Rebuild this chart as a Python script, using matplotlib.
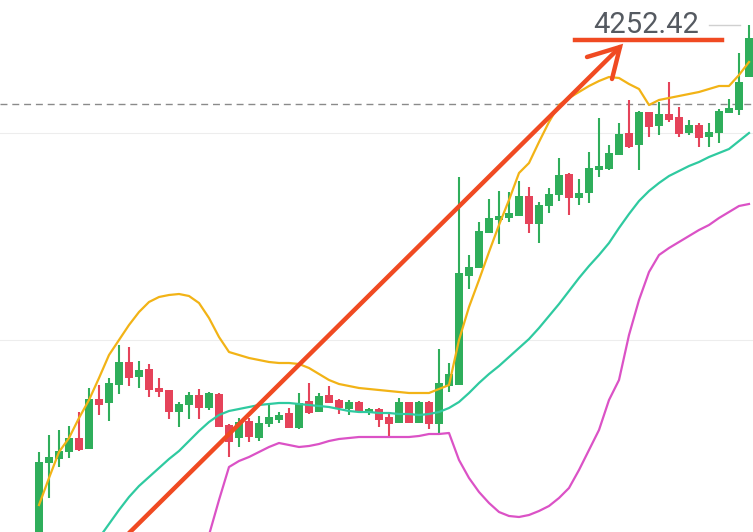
import numpy as np
import matplotlib
matplotlib.use("Agg")
import matplotlib.pyplot as plt

nan = np.nan

opens = [3747, 3829, 3833, 3840, 3854, 3843, 3893, 3889, 3907, 3930,
         3915, 3923, 3904, 3902, 3880, 3887, 3897, 3884, 3898, 3867,
         3854, 3871, 3854, 3868, 3872, 3879, 3864, 3891, 3880, 3897,
         3892, 3883, 3890, 3879, 3883, 3875, 3869, 3890, 3869, 3890,
         3868, 3906, 3907, 4016, 4024, 4059, 4072, 4074, 4076, 4096,
         4068, 4086, 4097, 4118, 4094, 4099, 4122, 4123, 4137, 4159,
         4147, 4180, 4166, 4178, 4175, 4159, 4167, 4155, 4159, 4179,
         4182, 4215]
highs = [3840, 3857, 3862, 3866, 3880, 3904, 3907, 3914, 3947, 3945,
         3931, 3928, 3914, 3902, 3890, 3900, 3903, 3900, 3899, 3868,
         3874, 3874, 3876, 3887, 3880, 3884, 3899, 3909, 3899, 3906,
         3893, 3892, 3891, 3884, 3884, 3879, 3894, 3890, 3891, 3891,
         3943, 3929, 4115, 4037, 4070, 4093, 4101, 4100, 4111, 4105,
         4090, 4104, 4134, 4119, 4113, 4140, 4174, 4147, 4169, 4192,
         4181, 4180, 4190, 4210, 4185, 4172, 4169, 4169, 4183, 4193,
         4239, 4267]
lows = [3732, 3794, 3825, 3834, 3841, 3843, 3877, 3871, 3898, 3906,
        3904, 3895, 3895, 3873, 3865, 3873, 3873, 3882, 3865, 3835,
        3845, 3850, 3851, 3865, 3869, 3864, 3863, 3878, 3880, 3889,
        3878, 3877, 3880, 3877, 3865, 3855, 3869, 3869, 3869, 3863,
        3858, 3900, 3907, 4003, 4024, 4059, 4048, 4070, 4076, 4059,
        4049, 4079, 4091, 4077, 4087, 4089, 4115, 4122, 4137, 4144,
        4122, 4155, 4157, 4170, 4155, 4157, 4145, 4145, 4149, 4179,
        4177, 4215]
closes = [3830, 3835, 3841, 3854, 3842, 3893, 3887, 3909, 3930, 3914,
          3922, 3902, 3900, 3880, 3888, 3897, 3884, 3899, 3865, 3850,
          3870, 3855, 3869, 3875, 3877, 3864, 3889, 3879, 3896, 3889,
          3884, 3890, 3881, 3883, 3872, 3868, 3890, 3869, 3890, 3868,
          3909, 3918, 4019, 4025, 4061, 4074, 4076, 4079, 4096, 4068,
          4087, 4098, 4117, 4094, 4099, 4124, 4126, 4139, 4158, 4145,
          4180, 4165, 4178, 4172, 4158, 4167, 4154, 4160, 4181, 4184,
          4210, 4254]

upper_band = [3787, 3814, 3840, 3854, 3874, 3892, 3914, 3937, 3952, 3967,
              3980, 3990, 3995, 3997, 3998, 3996, 3989, 3974, 3955, 3940,
              3937, 3934, 3932, 3930, 3929, 3929, 3928, 3924, 3918, 3912,
              3908, 3906, 3904, 3903, 3902, 3901, 3900, 3899, 3899, 3899,
              3903, 3907, 3952, 3985, 4012, 4040, 4067, 4092, 4119, 4129,
              4150, 4170, 4187, 4194, 4200, 4206, 4211, 4215, 4214, 4208,
              4203, 4187, 4192, 4194, 4196, 4198, 4200, 4203, 4206, 4206,
              4217, 4230]
middle_band = [nan, nan, nan, nan, nan, nan, 3754, 3768, 3782, 3795,
               3806, 3815, 3824, 3833, 3841, 3851, 3861, 3870, 3877, 3881,
               3883, 3885, 3887, 3888, 3889, 3889, 3888, 3887, 3886, 3885,
               3883, 3881, 3880, 3880, 3879, 3879, 3878, 3878, 3877, 3878,
               3880, 3884, 3890, 3899, 3909, 3918, 3926, 3935, 3944, 3953,
               3964, 3976, 3988, 4001, 4014, 4026, 4037, 4049, 4064, 4078,
               4091, 4101, 4109, 4116, 4121, 4126, 4130, 4135, 4139, 4143,
               4151, 4159]
lower_band = [nan, nan, nan, nan, nan, nan, nan, nan, nan, nan,
              nan, nan, nan, nan, nan, nan, 3722, 3757, 3792, 3825,
              3831, 3835, 3840, 3845, 3849, 3847, 3845, 3846, 3848, 3851,
              3853, 3854, 3855, 3855, 3855, 3855, 3855, 3855, 3856, 3858,
              3858, 3859, 3832, 3814, 3800, 3789, 3780, 3776, 3775, 3777,
              3781, 3786, 3794, 3804, 3822, 3842, 3862, 3892, 3912, 3957,
              3992, 4020, 4037, 4044, 4050, 4056, 4062, 4067, 4074, 4080,
              4086, 4088]

last_price_label = "4252.42"
last_price_level = 4252
dashed_level = 4188
grid_levels = [4159, 3952]

GREEN = "#2fae5b"
RED = "#e5435a"

fig = plt.figure(figsize=(7.53, 5.32), dpi=100)
ax = fig.add_axes([0, 0, 1, 1])
ax.set_xlim(-3.9, 71.4)
ax.set_ylim(3760, 4292)
ax.axis("off")

for g in grid_levels:
    ax.axhline(g, color="#ededed", lw=0.8, zorder=0)
ax.axhline(dashed_level, color="#8a8a8a", lw=1.0, dashes=(5, 3.5), zorder=1)

x = np.arange(len(opens))
o = np.array(opens, float)
c = np.array(closes, float)
h = np.array(highs, float)
l = np.array(lows, float)
up = c >= o
colors = np.where(up, GREEN, RED)

ax.vlines(x, l, h, colors=colors, lw=1.5, zorder=2)
bottom = np.minimum(o, c)
height = np.maximum(np.abs(c - o), 1.2)
ax.bar(x, height, bottom=bottom, width=0.72, color=colors, linewidth=0, zorder=3)

ax.plot(x, upper_band, color="#f2b316", lw=1.6, zorder=4)
ax.plot(x, middle_band, color="#2fcaa0", lw=1.6, zorder=4)
ax.plot(x, lower_band, color="#db52c6", lw=1.6, zorder=4)

# hand-drawn arrow and price marker
ARROW = "#f04a22"
ax.plot([8.1, 58.1], [3750, 4245], color=ARROW, lw=3.2, solid_capstyle="round", zorder=6)
ax.plot([54.8, 58.1, 57.3], [4235, 4245, 4213], color=ARROW, lw=3.2,
        solid_capstyle="round", solid_joinstyle="miter", zorder=6)
ax.plot([53.6, 68.3], [last_price_level, last_price_level], color=ARROW, lw=3.2, zorder=6)

ax.text(60.7, 4267, last_price_label, ha="center", va="center", fontsize=21,
        family="Roboto", color="#555a61", zorder=7)
ax.plot([67.0, 70.1], [4267, 4267], color="#d0d0d0", lw=1.0, zorder=5)

fig.savefig("out.png", dpi=100, facecolor="white")
